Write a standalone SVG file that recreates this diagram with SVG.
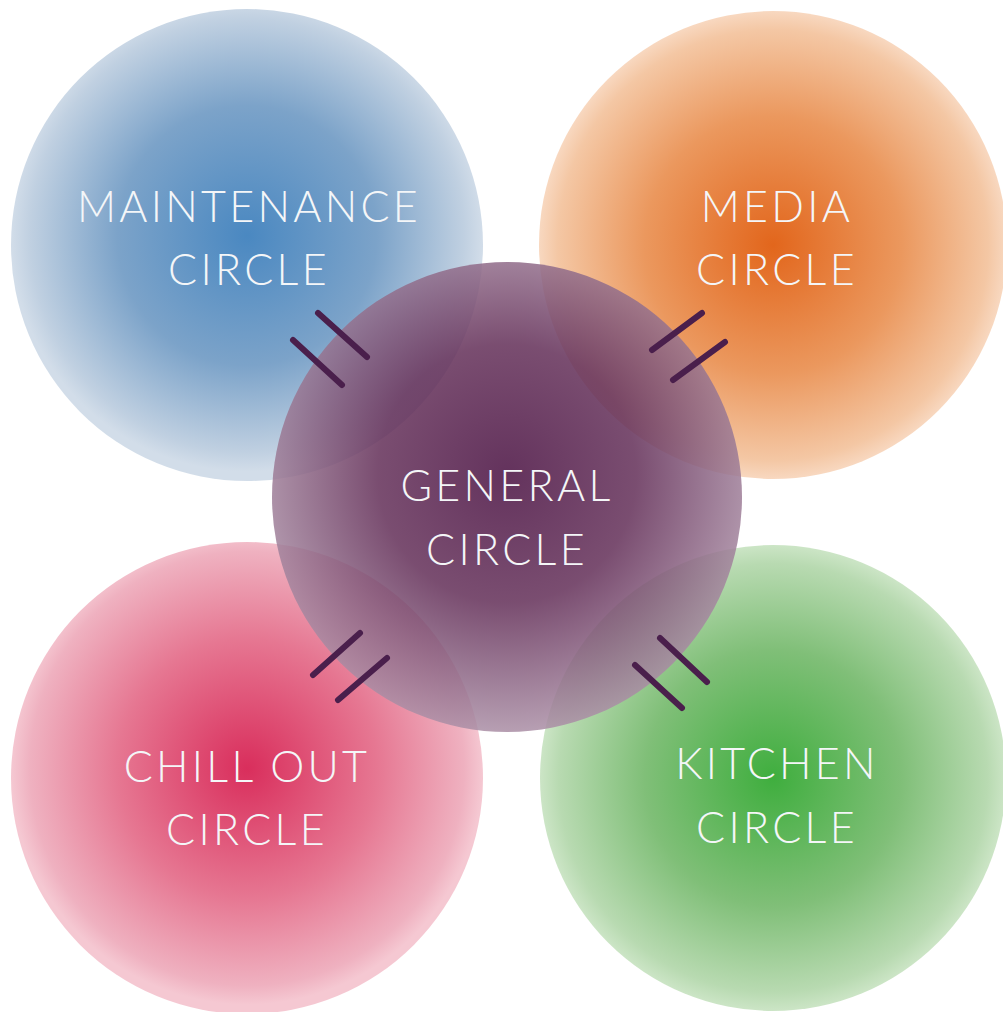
<svg xmlns="http://www.w3.org/2000/svg" width="1003" height="1012" viewBox="0 0 1003 1012">
<style>
.lbl{font-family:"Lato","Open Sans","Liberation Sans",sans-serif;font-weight:300;font-size:43px;fill:#f4f6f8;text-anchor:middle;letter-spacing:3.3px}
.tick{stroke:#4a1f4c;stroke-width:6;stroke-linecap:round;fill:none}
</style>
<defs>
<radialGradient id="gBlue" cx="0.5" cy="0.48" r="0.5">
<stop offset="0" stop-color="#4a88c1"/>
<stop offset="0.55" stop-color="#7ca3c9"/>
<stop offset="0.92" stop-color="#c0d0e1"/>
<stop offset="1" stop-color="#d2dde9"/>
</radialGradient>
<radialGradient id="gOrange" cx="0.5" cy="0.5" r="0.5">
<stop offset="0" stop-color="#e2661c"/>
<stop offset="0.55" stop-color="#eb985e"/>
<stop offset="0.92" stop-color="#f4c7a4"/>
<stop offset="1" stop-color="#f8d8c0"/>
</radialGradient>
<radialGradient id="gPink" cx="0.5" cy="0.48" r="0.5">
<stop offset="0" stop-color="#d92e5c"/>
<stop offset="0.55" stop-color="#e67792"/>
<stop offset="0.92" stop-color="#efb1c0"/>
<stop offset="1" stop-color="#f5c8d2"/>
</radialGradient>
<radialGradient id="gGreen" cx="0.5" cy="0.5" r="0.5">
<stop offset="0" stop-color="#3fae3e"/>
<stop offset="0.55" stop-color="#80bf78"/>
<stop offset="0.92" stop-color="#b8dab1"/>
<stop offset="1" stop-color="#cce5c6"/>
</radialGradient>
<radialGradient id="gPurple" cx="0.5" cy="0.45" r="0.55">
<stop offset="0" stop-color="#4a1142"/>
<stop offset="0.5" stop-color="#643059"/>
<stop offset="1" stop-color="#ab8fa6"/>
</radialGradient>
</defs>
<rect width="1003" height="1012" fill="#ffffff"/>
<g id="maintenance">
<circle cx="247" cy="245" r="236" fill="url(#gBlue)"/>
<text class="lbl" x="249" y="222">MAINTENANCE</text>
<text class="lbl" x="249" y="285">CIRCLE</text>
</g>
<g id="media">
<circle cx="773" cy="245" r="234" fill="url(#gOrange)"/>
<text class="lbl" x="777" y="222">MEDIA</text>
<text class="lbl" x="777" y="285">CIRCLE</text>
</g>
<g id="chillout">
<circle cx="247" cy="778" r="236" fill="url(#gPink)"/>
<text class="lbl" x="247" y="782">CHILL OUT</text>
<text class="lbl" x="247" y="845">CIRCLE</text>
</g>
<g id="kitchen">
<circle cx="773" cy="778" r="233" fill="url(#gGreen)"/>
<text class="lbl" x="777" y="779">KITCHEN</text>
<text class="lbl" x="777" y="843">CIRCLE</text>
</g>
<g id="general">
<circle cx="507" cy="497" r="235" fill="url(#gPurple)" fill-opacity="0.86"/>
<text class="lbl" x="507" y="501">GENERAL</text>
<text class="lbl" x="507" y="565">CIRCLE</text>
</g>
<g id="connectors">
<line class="tick" x1="318" y1="313" x2="367" y2="357"/>
<line class="tick" x1="293" y1="340" x2="342" y2="385"/>
<line class="tick" x1="702" y1="313" x2="652" y2="350"/>
<line class="tick" x1="725" y1="342" x2="673" y2="380"/>
<line class="tick" x1="360" y1="633" x2="313" y2="675"/>
<line class="tick" x1="387" y1="658" x2="338" y2="700"/>
<line class="tick" x1="660" y1="638" x2="707" y2="682"/>
<line class="tick" x1="635" y1="665" x2="682" y2="708"/>
</g>
</svg>
